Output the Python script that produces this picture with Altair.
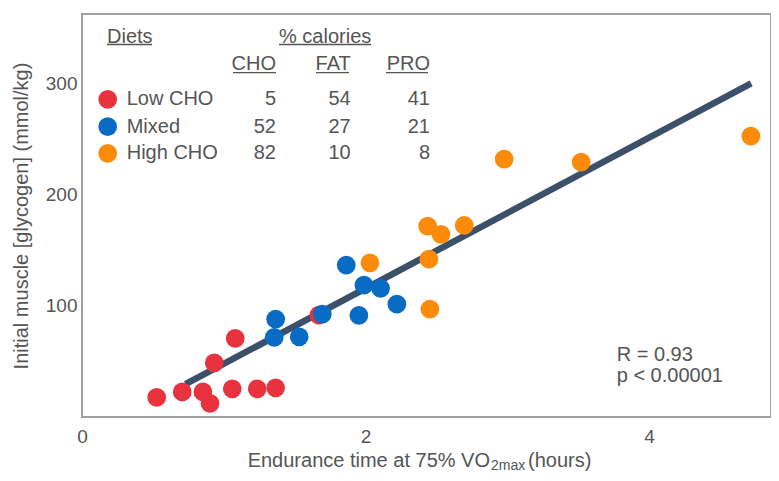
import altair as alt
import pandas as pd

# ---- data ----
diets = ["Low CHO", "Mixed", "High CHO"]
colors = ["#e8333f", "#0a6bc4", "#fd8b0a"]
cho = [5, 52, 82]
fat = [54, 27, 10]
pro = [41, 21, 8]

low_x = [0.527, 0.707, 0.853, 0.903, 0.933, 1.060, 1.081, 1.236, 1.366, 1.671]
low_y = [17.6, 22.6, 22.6, 12.2, 48.7, 25.3, 70.7, 25.3, 26.2, 91.6]
mix_x = [1.366, 1.356, 1.532, 1.695, 1.864, 1.953, 1.989, 2.106, 2.221]
mix_y = [88.0, 71.6, 72.1, 92.5, 136.6, 91.4, 118.6, 115.7, 101.5]
high_x = [2.031, 2.438, 2.532, 2.696, 2.447, 2.454, 2.978, 3.521, 4.718]
high_y = [138.7, 171.7, 164.3, 172.4, 142.0, 97.0, 232.0, 229.3, 252.7]

fit_x = [0.73, 4.72]
fit_y = [29.5, 300.2]

x_ticks = [0, 2, 4]
y_ticks = [100, 200, 300]

# ---- layout ----
W, H = 689, 403
FONT = "Liberation Sans"
TXT = "#555555"

pts = pd.DataFrame({
    "t": low_x + mix_x + high_x,
    "g": low_y + mix_y + high_y,
    "diet": [diets[0]] * len(low_x) + [diets[1]] * len(mix_x) + [diets[2]] * len(high_x),
})
fit = pd.DataFrame({"t": fit_x, "g": fit_y})

xs = alt.Scale(domain=[0, 4.86], nice=False, zero=False)
ys = alt.Scale(domain=[0, 362.5], nice=False, zero=False)

x_axis = alt.Axis(values=x_ticks, title=None, labelFlush=False, labelPadding=10, format="d")
y_axis = alt.Axis(values=y_ticks, title="Initial muscle [glycogen] (mmol/kg)", format="d",
                  labelPadding=5, titlePadding=14, titleFontSize=20,
                  titleFontWeight="normal", titleColor=TXT, titleFont=FONT)

line = alt.Chart(fit).mark_line(color="#3d5069", strokeWidth=6.5).encode(
    x=alt.X("t:Q", scale=xs, axis=x_axis),
    y=alt.Y("g:Q", scale=ys, axis=y_axis),
)

points = alt.Chart(pts).mark_circle(size=350, opacity=1).encode(
    x=alt.X("t:Q", scale=xs),
    y=alt.Y("g:Q", scale=ys),
    color=alt.Color("diet:N", scale=alt.Scale(domain=diets, range=colors), legend=None),
)


def txt(s, x, y, size=20, align="left", baseline="middle"):
    return alt.Chart(pd.DataFrame({"s": [s]})).mark_text(
        align=align, baseline=baseline, font=FONT, fontSize=size, color=TXT
    ).encode(text="s:N", x=alt.value(x), y=alt.value(y))


def uline(x1, x2, y):
    return alt.Chart(pd.DataFrame({"a": [0]})).mark_rule(color=TXT, strokeWidth=1.3).encode(
        x=alt.value(x1), x2=alt.value(x2), y=alt.value(y)
    )


layers = [line, points]

# legend table header
layers += [txt("Diets", 25, 23), uline(25, 70, 30.5)]
layers += [txt("% calories", 197, 23), uline(197, 289, 30.5)]
col_right = [194, 268.7, 348]
head = ["CHO", "FAT", "PRO"]
for h, r in zip(head, col_right):
    layers.append(txt(h, r, 50, align="right"))
layers += [uline(151, 194, 58.7), uline(234, 267, 58.7), uline(304, 346, 58.7)]

row_y = [85.3, 112.7, 139.3]
for i, d in enumerate(diets):
    layers.append(
        alt.Chart(pd.DataFrame({"d": [d]})).mark_circle(size=350, opacity=1, color=colors[i]).encode(
            x=alt.value(25.7), y=alt.value(row_y[i])
        )
    )
    layers.append(txt(d, 44.7, row_y[i]))
    for vals, r in zip([cho, fat, pro], col_right):
        layers.append(txt(str(vals[i]), r, row_y[i], align="right"))

# stats
layers += [txt("R = 0.93", 534.7, 341), txt("p < 0.00001", 534.7, 362)]

# x title with subscript
layers += [
    txt("Endurance time at 75% VO", 408, 452.5, align="right", baseline="alphabetic"),
    txt("2max", 409, 455.5, size=14, baseline="alphabetic"),
    txt("(hours)", 446, 452.5, baseline="alphabetic"),
]

chart = alt.layer(*layers).properties(
    width=W, height=H,
    autosize=alt.AutoSizeParams(type="none"),
    padding={"left": 74, "top": 6, "right": 0, "bottom": 56},
).configure_view(
    stroke="#a0a0a0", strokeWidth=2
).configure_axis(
    domain=False, ticks=False, grid=False,
    labelFont=FONT, labelFontSize=19, labelColor=TXT,
)

chart.save("out.html", embed_options={"renderer": "svg", "actions": False})
